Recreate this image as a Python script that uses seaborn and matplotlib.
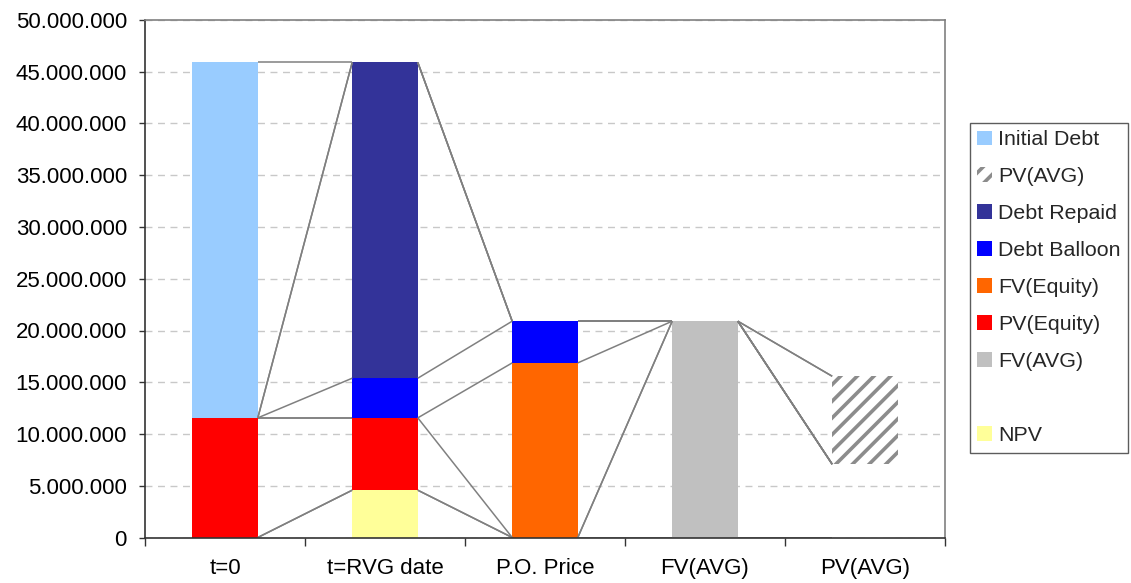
import matplotlib
matplotlib.use("Agg")
import matplotlib.pyplot as plt
import seaborn as sns
import numpy as np
from matplotlib.patches import Patch
from matplotlib.ticker import FuncFormatter, FixedLocator

# Categories along the x axis
categories = ["t=0", "t=RVG date", "P.O. Price", "FV(AVG)", "PV(AVG)"]

# Stacked series, listed from the bottom of each column upward
npv          = [0, 4_570_000, 0, 0, 0]
offset       = [0, 0, 0, 0, 7_080_000]          # invisible base under PV(AVG)
fv_avg       = [0, 0, 0, 20_900_000, 0]
pv_equity    = [11_560_000, 6_990_000, 0, 0, 0]
fv_equity    = [0, 0, 16_870_000, 0, 0]
debt_balloon = [0, 3_830_000, 4_030_000, 0, 0]
debt_repaid  = [0, 30_510_000, 0, 0, 0]
pv_avg       = [0, 0, 0, 0, 8_500_000]
initial_debt = [34_340_000, 0, 0, 0, 0]

# Tick values for the y axis
y_ticks = [0, 5_000_000, 10_000_000, 15_000_000, 20_000_000, 25_000_000,
           30_000_000, 35_000_000, 40_000_000, 45_000_000, 50_000_000]

stack = [
    ("NPV",          npv,          "#FFFF99"),
    ("",             offset,       None),
    ("FV(AVG)",      fv_avg,       "#C0C0C0"),
    ("PV(Equity)",   pv_equity,    "#FF0000"),
    ("FV(Equity)",   fv_equity,    "#FF6600"),
    ("Debt Balloon", debt_balloon, "#0000FF"),
    ("Debt Repaid",  debt_repaid,  "#333399"),
    ("PV(AVG)",      pv_avg,       "hatch"),
    ("Initial Debt", initial_debt, "#99CCFF"),
]

sns.set_theme(style="white")
plt.rcParams["font.family"] = ["Liberation Sans", "DejaVu Sans"]
plt.rcParams["hatch.linewidth"] = 2.6

fig = plt.figure(figsize=(11.31, 5.83), dpi=100)
ax = fig.add_axes([145 / 1131, 1 - 537.5 / 583, 800 / 1131, 517.5 / 583])

bar_w = 0.41
hatch_gray = "#8C8C8C"
font_size = 16

bottom = np.zeros(len(categories))
cum_tops = []
for label, vals, color in stack:
    vals = np.asarray(vals, dtype=float)
    if color is not None:
        draw_color = "white" if color == "hatch" else color
        sns.barplot(x=categories, y=vals, bottom=bottom, color=draw_color,
                    saturation=1, width=bar_w, errorbar=None, ax=ax, zorder=3)
        for patch in ax.containers[-1]:
            patch.set_facecolor(draw_color)
            patch.set_linewidth(0)
            if color == "hatch":
                patch.set_hatch("//")
                patch.set_edgecolor(hatch_gray)
    bottom = bottom + vals
    cum_tops.append((label, color, bottom.copy()))

# Series lines joining the top of each segment between neighbouring columns
for label, color, tops in cum_tops:
    if color is None:
        continue
    for i in range(len(categories) - 1):
        ax.plot([i + bar_w / 2, i + 1 - bar_w / 2], [tops[i], tops[i + 1]],
                color="#808080", lw=1.1, zorder=4, solid_capstyle="butt")

# Axes, grid and ticks
ax.set_xlim(-0.5, len(categories) - 0.5)
ax.set_ylim(0, 50_000_000)
ax.yaxis.set_major_locator(FixedLocator(y_ticks))
ax.yaxis.set_major_formatter(FuncFormatter(lambda v, p: f"{int(v):,}".replace(",", ".")))
ax.yaxis.grid(True, linestyle=(0, (5, 4)), color="#C8C8C8", lw=1)
ax.set_axisbelow(True)
ax.set_xlabel("")
ax.set_ylabel("")

ax.xaxis.set_minor_locator(FixedLocator(np.arange(-0.5, len(categories), 1.0)))
ax.tick_params(axis="x", which="major", length=0, pad=15, labelsize=font_size, colors="black")
ax.tick_params(axis="x", which="minor", bottom=True, length=6, width=1, color="#333333")
ax.tick_params(axis="y", which="major", left=True, length=4, width=1, color="#333333",
               pad=9, labelsize=font_size, labelcolor="black")

for side in ("left", "bottom"):
    ax.spines[side].set_color("#333333")
    ax.spines[side].set_linewidth(1.2)
for side in ("top", "right"):
    ax.spines[side].set_color("#808080")
    ax.spines[side].set_linewidth(1.2)
for s in ax.spines.values():
    s.set_zorder(5)

# Legend in the order of the series table, top series first
handles = [
    Patch(facecolor="#99CCFF", edgecolor="none", label="Initial Debt"),
    Patch(facecolor="white", edgecolor=hatch_gray, hatch="//", lw=0, label="PV(AVG)"),
    Patch(facecolor="#333399", edgecolor="none", label="Debt Repaid"),
    Patch(facecolor="#0000FF", edgecolor="none", label="Debt Balloon"),
    Patch(facecolor="#FF6600", edgecolor="none", label="FV(Equity)"),
    Patch(facecolor="#FF0000", edgecolor="none", label="PV(Equity)"),
    Patch(facecolor="#C0C0C0", edgecolor="none", label="FV(AVG)"),
    Patch(facecolor="none", edgecolor="none", label=" "),
    Patch(facecolor="#FFFF99", edgecolor="none", label="NPV"),
]
leg = fig.legend(handles=handles, loc="upper left",
                 bbox_to_anchor=(970 / 1131, 1 - 123 / 583),
                 bbox_transform=fig.transFigure, borderaxespad=0,
                 fontsize=15.4, frameon=True, fancybox=False,
                 handlelength=0.7, handleheight=0.7, handletextpad=0.25,
                 labelspacing=0.84, borderpad=0.35)
leg.get_frame().set_edgecolor("#333333")
leg.get_frame().set_linewidth(1.0)

fig.savefig("out.png", dpi=100)
